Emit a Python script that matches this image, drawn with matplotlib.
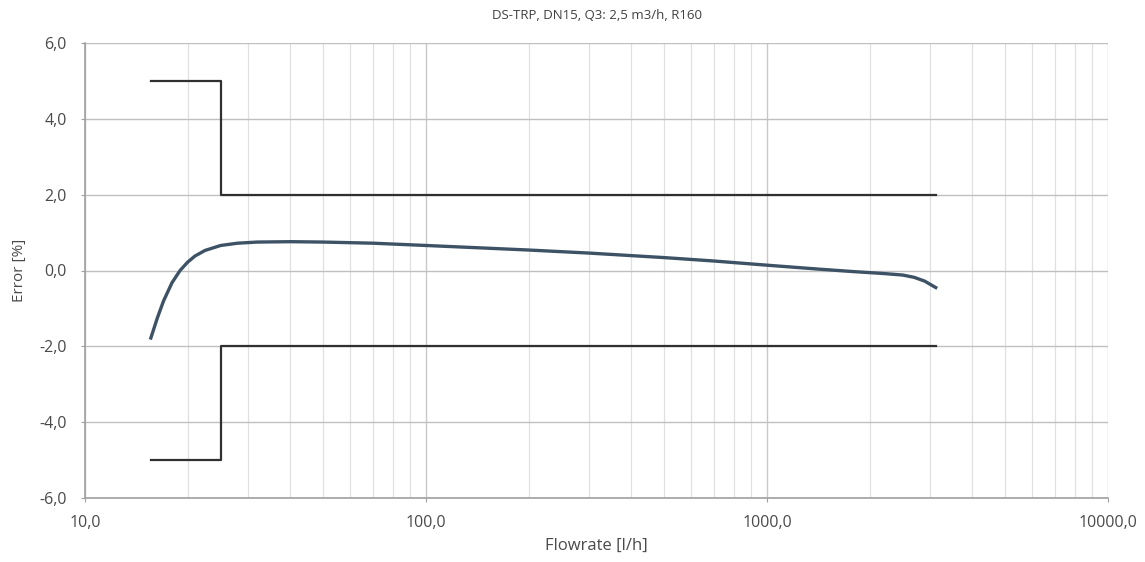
import numpy as np
import matplotlib.pyplot as plt
from matplotlib.ticker import FuncFormatter, LogLocator, MultipleLocator

# ── Data ─────────────────────────────────────────────────────────────────────

q1, q2, q4 = 15.625, 25.0, 3125.0          # l/h
upper_x = [q1, q2, q2, q4]
upper_y = [5.0, 5.0, 2.0, 2.0]
lower_x = [q1, q2, q2, q4]
lower_y = [-5.0, -5.0, -2.0, -2.0]

flow = [15.6, 16.3, 17.0, 18.0, 19.0, 20.0, 21.0, 22.5, 25.0, 28.0, 32.0,
        40.0, 50.0, 70.0, 100.0, 150.0, 200.0, 300.0, 500.0, 700.0, 1000.0,
        1400.0, 1800.0, 2200.0, 2500.0, 2700.0, 2900.0, 3125.0]
error = [-1.78, -1.25, -0.80, -0.32, 0.00, 0.22, 0.38, 0.53, 0.66, 0.72, 0.75,
         0.76, 0.75, 0.72, 0.66, 0.59, 0.54, 0.46, 0.34, 0.25, 0.14,
         0.04, -0.03, -0.08, -0.12, -0.18, -0.28, -0.45]

title = 'DS-TRP, DN15, Q3: 2,5 m3/h, R160'

# ── Plot ─────────────────────────────────────────────────────────────────────

plt.rcParams['font.family'] = ['Open Sans', 'DejaVu Sans']

fig = plt.figure(figsize=(11.45, 5.62), dpi=100)
ax = fig.add_axes([85 / 1145, 1 - 498 / 562, (1108 - 85) / 1145, (498 - 43) / 562])

ax.set_xscale('log')
ax.set_xlim(10, 10000)
ax.set_ylim(-6, 6)

ax.xaxis.set_major_locator(LogLocator(base=10, numticks=10))
ax.xaxis.set_minor_locator(LogLocator(base=10, subs=np.arange(2, 10), numticks=10))
ax.yaxis.set_major_locator(MultipleLocator(2))

comma = FuncFormatter(lambda v, p: f'{v:.1f}'.replace('.', ','))
ax.xaxis.set_major_formatter(comma)
ax.xaxis.set_minor_formatter(FuncFormatter(lambda v, p: ''))
ax.yaxis.set_major_formatter(comma)

ax.grid(which='major', axis='x', color='#c8c8c8', lw=1.0)
ax.grid(which='minor', axis='x', color='#e0e0e0', lw=0.9)
ax.grid(which='major', axis='y', color='#c0c0c0', lw=1.0)
ax.set_axisbelow(True)

for s in ['top', 'right']:
    ax.spines[s].set_visible(False)
for s in ['left', 'bottom']:
    ax.spines[s].set_color('#a0a0a0')
    ax.spines[s].set_linewidth(1.2)

ax.tick_params(which='both', colors='#a0a0a0', labelcolor='#4a4a4a', labelsize=11.5)
ax.tick_params(which='major', length=3)
ax.tick_params(which='minor', length=0)
ax.tick_params(axis='x', pad=9)
ax.tick_params(axis='y', pad=10)

ax.plot(upper_x, upper_y, color='#303030', lw=1.6)
ax.plot(lower_x, lower_y, color='#303030', lw=1.6)
ax.plot(flow, error, color='#3e5266', lw=2.4)

ax.set_title(title, fontsize=9.5, color='#404040', pad=17)
ax.set_xlabel('Flowrate [l/h]', fontsize=12, color='#4a4a4a', labelpad=5)
ax.set_ylabel('Error [%]', fontsize=11, color='#4a4a4a', labelpad=9)

fig.savefig('out.png', dpi=100)
